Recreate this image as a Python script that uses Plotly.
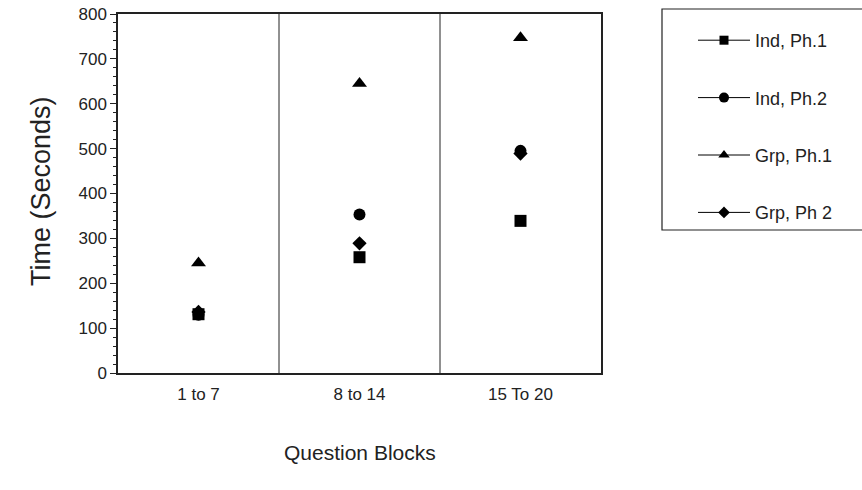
import plotly.graph_objects as go

categories = ["1 to 7", "8 to 14", "15 To 20"]
ind_ph1 = [131, 258, 339]
ind_ph2 = [130, 353, 495]
grp_ph1 = [245, 645, 747]
grp_ph2 = [136, 289, 489]

series = [
    ("Ind, Ph.1", ind_ph1, "square", 12, 9),
    ("Ind, Ph.2", ind_ph2, "circle", 12, 10),
    ("Grp, Ph.1", grp_ph1, "triangle-up", 13, 10),
    ("Grp, Ph 2", grp_ph2, "diamond", 11, 9),
]

FONT = "Liberation Sans, Arial, sans-serif"
L, R, T, B = 118, 261, 14, 117
W, H = 862, 490
pw = W - L - R
ph = H - T - B

fig = go.Figure()
xs = list(range(len(categories)))
for name, vals, sym, size, lsize in series:
    fig.add_trace(go.Scatter(
        x=xs, y=vals, mode="markers", name=name, showlegend=False,
        marker=dict(symbol=sym, size=size, color="black", line=dict(width=0)),
    ))
for i, (name, vals, sym, size, lsize) in enumerate(series):
    fig.add_trace(go.Scatter(
        x=[None], y=[None], mode="lines+markers", name=name, legendgroup=f"g{i}",
        line=dict(color="black", width=1),
        marker=dict(symbol=sym, size=lsize, color="black", line=dict(width=0)),
    ))

# category dividers
for xv in [0.5, 1.5]:
    fig.add_shape(type="line", xref="x", yref="paper", x0=xv, x1=xv, y0=0, y1=1,
                  line=dict(color="#222", width=1))

def px2x(p):
    return (p - L) / pw
def py2y(p):
    return 1 - (p - T) / ph

# legend frame
fig.add_shape(type="rect", xref="paper", yref="paper",
              x0=px2x(662), x1=px2x(900), y0=py2y(230), y1=py2y(9),
              line=dict(color="#222", width=1.2), fillcolor="rgba(0,0,0,0)")

fig.add_annotation(text="Time (Seconds)", xref="paper", yref="paper", x=0, y=py2y(191),
                   xshift=-94, textangle=-90, showarrow=False,
                   font=dict(family=FONT, size=27, color="#222"))
fig.add_annotation(text="Question Blocks", xref="paper", yref="paper", x=0.5, y=0,
                   yshift=-79, showarrow=False, yanchor="middle",
                   font=dict(family=FONT, size=21, color="#222"))

fig.update_layout(
    width=W, height=H,
    margin=dict(l=L, r=R, t=T, b=B, autoexpand=False),
    paper_bgcolor="white", plot_bgcolor="white",
    font=dict(family=FONT, size=17, color="#222"),
    legend=dict(x=px2x(693), xanchor="left", y=py2y(22), yanchor="top",
                font=dict(family=FONT, size=18, color="#222"),
                tracegroupgap=31, traceorder="grouped", itemwidth=52,
                bgcolor="rgba(0,0,0,0)", borderwidth=0),
)
fig.update_xaxes(range=[-0.5, 2.5], tickvals=xs, ticktext=categories,
                 showgrid=False, zeroline=False, ticks="",
                 showline=True, linecolor="#222", linewidth=1.5, mirror=True,
                 tickfont=dict(size=17), automargin=False, ticklabelstandoff=5)
fig.update_yaxes(range=[0, 800], dtick=100, showgrid=False, zeroline=False,
                 ticks="outside", ticklen=6, tickcolor="#222", tickwidth=1,
                 minor=dict(dtick=20, ticks="outside", ticklen=3, tickcolor="#222"),
                 showline=True, linecolor="#222", linewidth=1.5, mirror=True,
                 tickfont=dict(size=17), automargin=False)

fig.write_html("out.html", config={"displayModeBar": False},
               post_script="document.body.style.margin='0';")
